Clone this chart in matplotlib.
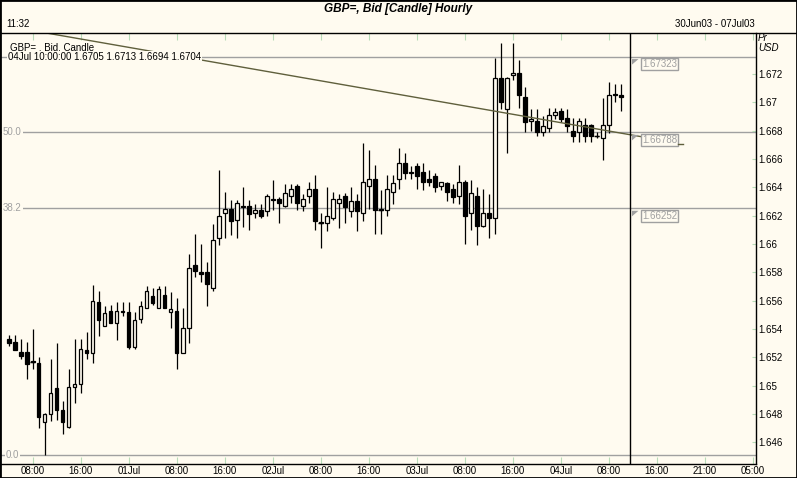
import numpy as np
import matplotlib.pyplot as plt
from matplotlib.patches import Rectangle, Polygon
from matplotlib.lines import Line2D

W, H = 797, 478
BG = '#fffbf0'
GRAY = '#a0a0a0'
TICKC = '#b8dcb8'
plt.rcParams['font.family'] = ['Liberation Sans', 'DejaVu Sans']

# hourly GBP= bid, 30Jun03 04:00 .. 04Jul03 10:00
opens = [1.6533, 1.6531, 1.6524, 1.6524, 1.6517, 1.6516, 1.6474, 1.6480, 1.6498, 1.6483,
         1.6471, 1.6499, 1.6501, 1.6525, 1.6523, 1.6559, 1.6542, 1.6553, 1.6544, 1.6553,
         1.6552, 1.6527, 1.6547, 1.6555, 1.6563, 1.6555, 1.6564, 1.6552, 1.6553, 1.6523,
         1.6541, 1.6585, 1.6580, 1.6580, 1.6569, 1.6604, 1.6622, 1.6625, 1.6617, 1.6627,
         1.6627, 1.6622, 1.6624, 1.6623, 1.6632, 1.6632, 1.6627, 1.6634, 1.6641, 1.6627,
         1.6634, 1.6639, 1.6615, 1.6615, 1.6618, 1.6629, 1.6634, 1.6623, 1.6630, 1.6622,
         1.6641, 1.6646, 1.6624, 1.6624, 1.6637, 1.6646, 1.6657, 1.6651, 1.6655, 1.6651,
         1.6646, 1.6648, 1.6641, 1.6643, 1.6639, 1.6634, 1.6644, 1.6622, 1.6634, 1.6613,
         1.6622, 1.6618, 1.6717, 1.6695, 1.6719, 1.6721, 1.6704, 1.6687, 1.6687, 1.6679,
         1.6682, 1.6691, 1.6694, 1.6689, 1.6680, 1.6679, 1.6684, 1.6684, 1.6676, 1.6675,
         1.6684, 1.6706, 1.6705]
highs = [1.6536, 1.6536, 1.6533, 1.6531, 1.6540, 1.6520, 1.6481, 1.6519, 1.6530, 1.6489,
         1.6512, 1.6533, 1.6533, 1.6538, 1.6571, 1.6567, 1.6556, 1.6557, 1.6559, 1.6559,
         1.6559, 1.6552, 1.6560, 1.6570, 1.6569, 1.6570, 1.6570, 1.6566, 1.6562, 1.6555,
         1.6593, 1.6607, 1.6600, 1.6587, 1.6614, 1.6652, 1.6637, 1.6631, 1.6631, 1.6640,
         1.6631, 1.6628, 1.6628, 1.6635, 1.6645, 1.6633, 1.6642, 1.6642, 1.6642, 1.6635,
         1.6644, 1.6649, 1.6622, 1.6640, 1.6637, 1.6635, 1.6636, 1.6640, 1.6635, 1.6671,
         1.6666, 1.6656, 1.6638, 1.6649, 1.6649, 1.6668, 1.6664, 1.6655, 1.6657, 1.6657,
         1.6652, 1.6650, 1.6644, 1.6644, 1.6642, 1.6656, 1.6645, 1.6645, 1.6640, 1.6639,
         1.6635, 1.6731, 1.6742, 1.6718, 1.6742, 1.6730, 1.6711, 1.6695, 1.6695, 1.6690,
         1.6696, 1.6696, 1.6696, 1.6695, 1.6689, 1.6689, 1.6689, 1.6685, 1.6679, 1.6703,
         1.6714, 1.6713, 1.6713]
lows = [1.6528, 1.6525, 1.6519, 1.6505, 1.6512, 1.6470, 1.6451, 1.6475, 1.6476, 1.6466,
        1.6470, 1.6488, 1.6495, 1.6519, 1.6516, 1.6535, 1.6542, 1.6544, 1.6532, 1.6549,
        1.6526, 1.6526, 1.6544, 1.6555, 1.6557, 1.6555, 1.6555, 1.6541, 1.6512, 1.6523,
        1.6530, 1.6577, 1.6573, 1.6556, 1.6567, 1.6599, 1.6604, 1.6606, 1.6604, 1.6612,
        1.6610, 1.6618, 1.6618, 1.6620, 1.6624, 1.6615, 1.6626, 1.6629, 1.6624, 1.6623,
        1.6629, 1.6610, 1.6597, 1.6609, 1.6617, 1.6611, 1.6615, 1.6619, 1.6609, 1.6616,
        1.6625, 1.6607, 1.6607, 1.6620, 1.6628, 1.6639, 1.6646, 1.6646, 1.6639, 1.6638,
        1.6641, 1.6637, 1.6638, 1.6630, 1.6629, 1.6628, 1.6600, 1.6610, 1.6599, 1.6612,
        1.6604, 1.6607, 1.6695, 1.6664, 1.6716, 1.6696, 1.6679, 1.6680, 1.6676, 1.6676,
        1.6679, 1.6688, 1.6686, 1.6679, 1.6672, 1.6672, 1.6672, 1.6672, 1.6675, 1.6659,
        1.6678, 1.6700, 1.6694]
closes = [1.6530, 1.6525, 1.6521, 1.6515, 1.6517, 1.6478, 1.6480, 1.6495, 1.6483, 1.6474,
          1.6499, 1.6501, 1.6526, 1.6523, 1.6560, 1.6546, 1.6551, 1.6544, 1.6553, 1.6552,
          1.6527, 1.6546, 1.6556, 1.6567, 1.6558, 1.6568, 1.6555, 1.6554, 1.6523, 1.6541,
          1.6583, 1.6581, 1.6579, 1.6572, 1.6603, 1.6620, 1.6625, 1.6616, 1.6629, 1.6626,
          1.6621, 1.6624, 1.6620, 1.6634, 1.6631, 1.6629, 1.6636, 1.6639, 1.6629, 1.6632,
          1.6639, 1.6616, 1.6615, 1.6620, 1.6632, 1.6632, 1.6626, 1.6630, 1.6623, 1.6644,
          1.6646, 1.6624, 1.6624, 1.6639, 1.6643, 1.6657, 1.6650, 1.6650, 1.6648, 1.6644,
          1.6644, 1.6640, 1.6644, 1.6637, 1.6633, 1.6644, 1.6620, 1.6636, 1.6613, 1.6622,
          1.6618, 1.6717, 1.6700, 1.6717, 1.6721, 1.6705, 1.6686, 1.6688, 1.6679, 1.6683,
          1.6691, 1.6693, 1.6688, 1.6683, 1.6676, 1.6687, 1.6676, 1.6676, 1.6676, 1.6684,
          1.6705, 1.6705, 1.6704]
hours = np.arange(4, 4 + len(opens))   # hours since 30Jun03 00:00

xtick_pos = [8, 16, 24, 32, 40, 48, 56, 64, 72, 80, 88, 96, 104, 112, 120, 128]
xtick_lab = ['08:00', '16:00', '01Jul', '08:00', '16:00', '02Jul', '08:00', '16:00',
             '03Jul', '08:00', '16:00', '04Jul', '08:00', '16:00', '21:00', '05:00']
yticks = [1.646, 1.648, 1.65, 1.652, 1.654, 1.656, 1.658, 1.66,
          1.662, 1.664, 1.666, 1.668, 1.67, 1.672]

fib_vals = [1.67323, 1.66788, 1.66252, 1.6451]
fib_pct = ['', '50.0', '38.2', '0.0']
trend_x = [10.6, 109.5]
trend_y = [1.67487, 1.66757]
cursor_x = 107.5


def fx(x):
    return x / W


def fy(y):
    return 1 - y / H


fig = plt.figure(figsize=(W / 100, H / 100), dpi=100, facecolor=BG)
ax = fig.add_axes([0, fy(464), 756.3 / W, (464 - 33.3) / H], facecolor=BG)
ax.set_xlim(2.55, 128.6)
ax.set_ylim(1.644467, 1.674873)

# fib lines
for v in fib_vals:
    ax.axhline(v, color=GRAY, lw=1, zorder=1)

# candles
o = np.array(opens); c = np.array(closes)
ax.vlines(hours, lows, highs, color='k', lw=0.9, zorder=2)
up = c > o
bot = np.minimum(o, c)
hgt = np.maximum(np.abs(c - o), 0.00004)
ax.bar(hours, hgt, bottom=bot, width=0.6, color=np.where(up, BG, 'k'),
       edgecolor='k', lw=0.9, zorder=3)
doji = c == o
ax.hlines(c[doji], hours[doji] - 0.4, hours[doji] + 0.4, color='k', lw=1, zorder=3)

ax.plot(trend_x, trend_y, color='#5f5f3c', lw=1, zorder=4)
ax.axvline(cursor_x, color='k', lw=1, zorder=4)

for s in ['left', 'top']:
    ax.spines[s].set_visible(False)
for s in ['right', 'bottom']:
    ax.spines[s].set_color('k')
    ax.spines[s].set_linewidth(1)

ax.set_xticks(xtick_pos)
ax.set_xticklabels(xtick_lab)
ax.tick_params(axis='x', direction='in', length=5, color=TICKC, top=True,
               labelsize=7, pad=1.5)
ax.yaxis.tick_right()
ax.set_yticks(yticks)
ax.set_yticklabels([f'{v:.3f}'.rstrip('0') for v in yticks])
ax.tick_params(axis='y', direction='in', length=3, color=TICKC, labelsize=7, pad=1.5)


def val_fy(v):
    return fig.transFigure.inverted().transform(ax.transData.transform((0, v)))[1]


# fib percentage labels at left
lab_x = {'50.0': 3, '38.2': 3, '0.0': 6}
for v, p in zip(fib_vals, fib_pct):
    if p:
        fig.text(fx(lab_x[p]), val_fy(v), p, color=GRAY, fontsize=7, va='center',
                 bbox=dict(fc=BG, ec='none', pad=0.6))

# value boxes at the cursor
for v in fib_vals[:3]:
    yv = val_fy(v)
    fig.add_artist(Polygon([(fx(632), yv - 2.5 / H), (fx(638.5), yv - 2.5 / H),
                            (fx(632), yv - 8 / H)], closed=True, fc=GRAY, ec='none',
                           transform=fig.transFigure))
    fig.add_artist(Rectangle((fx(641), yv - 13.5 / H), 37 / W, 12 / H, fc=BG, ec=GRAY,
                             lw=1, transform=fig.transFigure))
    fig.text(fx(659.5), yv - 7.5 / H, f'{v:.5f}', color=GRAY, fontsize=7,
             ha='center', va='center')
fig.add_artist(Line2D([fx(678), fx(683)], [fy(143.5), fy(143.5)], color='#5f5f3c',
                      lw=1, transform=fig.transFigure))

# header
fig.text(0.5, fy(9), 'GBP=, Bid [Candle] Hourly', fontsize=8.5, fontweight='bold',
         style='italic', ha='center', va='center')
fig.text(fx(6), fy(23.7), '11:32', fontsize=7, va='center')
fig.text(fx(755), fy(23.7), '30Jun03 - 07Jul03', fontsize=7, va='center', ha='right')
fig.text(fx(758), fy(38), 'Pr', fontsize=7, style='italic', va='center')
fig.text(fx(758), fy(48), 'USD', fontsize=7, style='italic', va='center')

fig.text(fx(10), fy(47), 'GBP= , Bid, Candle', fontsize=7, va='center')
fig.text(fx(8), fy(57.5), '04Jul 10:00:00 %.4f %.4f %.4f %.4f'
         % (opens[-1], highs[-1], lows[-1], closes[-1]), fontsize=7, va='center',
         bbox=dict(fc=BG, ec='none', pad=0.8))

fig.add_artist(Line2D([0, 1], [fy(33.3), fy(33.3)], color='k', lw=1,
                      transform=fig.transFigure))
fig.add_artist(Rectangle((0, 0), 1, 1, fill=False, ec='k', lw=2,
                         transform=fig.transFigure))

fig.savefig('out.png', dpi=100, facecolor=BG)
